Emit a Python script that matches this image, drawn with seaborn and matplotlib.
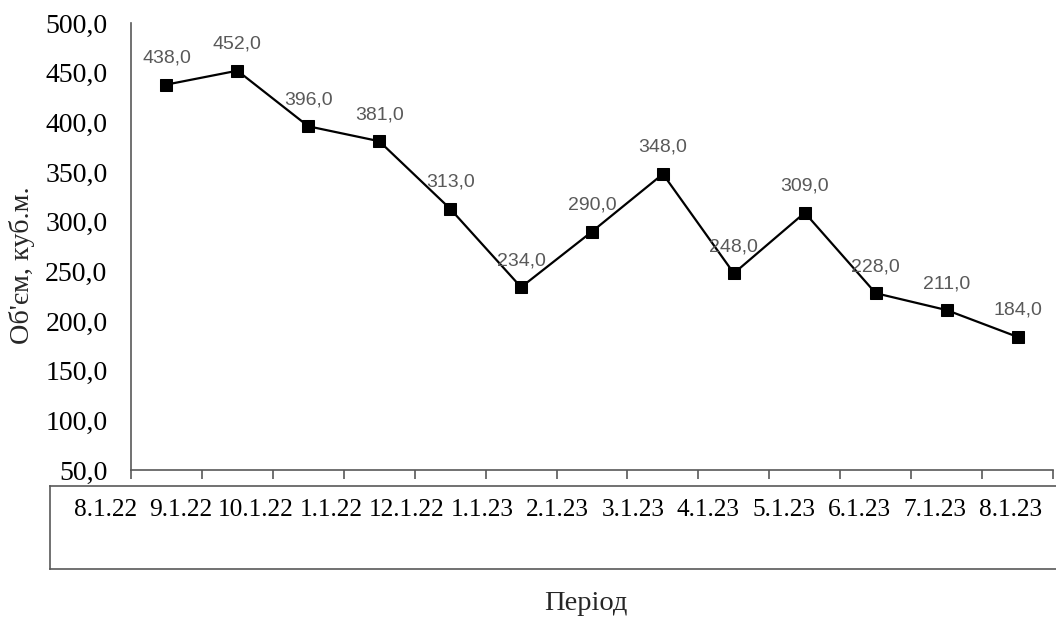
import matplotlib
matplotlib.use("Agg")
import matplotlib.pyplot as plt
import matplotlib.transforms as mtransforms
from matplotlib.ticker import FixedLocator, FuncFormatter
import numpy as np
import pandas as pd
import seaborn as sns

# Monthly volume, cubic metres
periods = ["8.1.22", "9.1.22", "10.1.22", "1.1.22", "12.1.22", "1.1.23", "2.1.23",
           "3.1.23", "4.1.23", "5.1.23", "6.1.23", "7.1.23", "8.1.23"]
volumes = [438.0, 452.0, 396.0, 381.0, 313.0, 234.0, 290.0,
           348.0, 248.0, 309.0, 228.0, 211.0, 184.0]
y_ticks = [50, 100, 150, 200, 250, 300, 350, 400, 450, 500]

sns.set_theme(style="white")
plt.rcParams["font.family"] = ["Liberation Serif", "DejaVu Serif"]

serif = "Liberation Serif"
sans = "Liberation Sans"
axis_grey = "#595959"

df = pd.DataFrame({"pos": np.arange(len(periods)), "volume": volumes})

fig = plt.figure(figsize=(10.56, 6.19), dpi=100)
ax = fig.add_axes([131 / 1056, 1 - 470 / 619, (1053 - 131) / 1056, (470 - 23) / 619])

sns.lineplot(data=df, x="pos", y="volume", ax=ax, color="black", linewidth=1.6,
             marker="s", markersize=8, markeredgecolor="black",
             markerfacecolor="black")

# value labels above each marker
for x, v in zip(df["pos"], df["volume"]):
    ax.annotate(f"{v:.1f}".replace(".", ","), (x, v), xytext=(0, 13),
                textcoords="offset points", ha="center", va="bottom",
                fontsize=14, family=sans, color=axis_grey)

ax.set_xlim(-0.5, len(periods) - 0.5)
ax.set_ylim(50, 500)
ax.yaxis.set_major_locator(FixedLocator(y_ticks))
ax.yaxis.set_major_formatter(FuncFormatter(lambda v, _: f"{v:.1f}".replace(".", ",")))
ax.xaxis.set_major_locator(FixedLocator(np.arange(-0.5, len(periods), 1.0)))
ax.set_xticklabels([])
ax.tick_params(axis="x", which="major", direction="out", length=6.5, width=1.2,
               color=axis_grey, bottom=True)
ax.tick_params(axis="y", length=0, pad=17, labelsize=20, labelcolor="black")
for lbl in ax.get_yticklabels():
    lbl.set_family(serif)
ax.set_xlabel("")
ax.set_ylabel("")
for side in ("top", "right"):
    ax.spines[side].set_visible(False)
for side in ("left", "bottom"):
    ax.spines[side].set_color(axis_grey)
    ax.spines[side].set_linewidth(1.2)
ax.grid(False)

# category box under the axis
box = fig.add_axes([50 / 1056, 1 - 569 / 619, 1.02, (569 - 486) / 619])
box.set_xlim(-0.73, 13.55)
box.set_ylim(0, 1)
box.set_xticks([])
box.set_yticks([])
for side in ("left", "top", "bottom"):
    box.spines[side].set_color(axis_grey)
    box.spines[side].set_linewidth(1.2)
box.spines["right"].set_visible(False)
trans = mtransforms.blended_transform_factory(box.transData, box.transAxes)
for i, p in enumerate(periods):
    box.text(i, 0.71, p, transform=trans, ha="center", va="center",
             fontsize=18.3, family=serif, color="black")

fig.text(22 / 1056, 1 - 265 / 619, "Об'єм, куб.м.", rotation=90, ha="center",
         va="center", fontsize=20.3, family=serif)
fig.text(586 / 1056, 1 - 603 / 619, "Період", ha="center", va="center",
         fontsize=20.5, family=serif)

fig.savefig("out.png", dpi=100)
